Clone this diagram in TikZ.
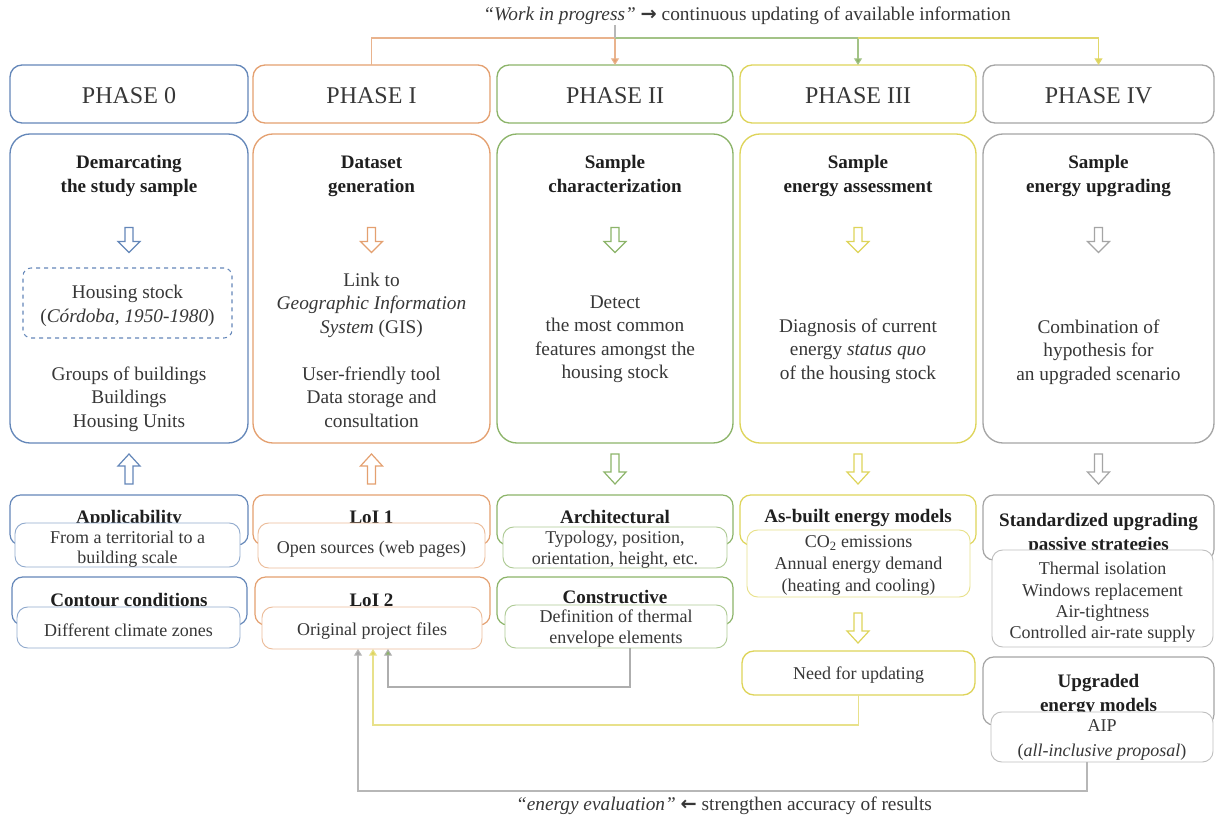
\documentclass[tikz,border=0pt]{standalone}
\usepackage{fontspec}
\setmainfont{Liberation Serif}
\newfontfamily\dejavu{DejaVu Sans}
\usetikzlibrary{fit,calc,arrows.meta}
\definecolor{cA}{RGB}{100,135,185}
\definecolor{cB}{RGB}{228,160,112}
\definecolor{cC}{RGB}{140,180,105}
\definecolor{cD}{RGB}{222,212,90}
\definecolor{cE}{RGB}{165,165,165}
\definecolor{txt}{RGB}{55,55,55}
\tikzset{
  every node/.style={inner sep=0pt,outer sep=0pt},
  hbox/.style={draw=#1,line width=1pt,rounded corners=9pt,inner sep=0pt},
  bigbox/.style={draw=#1,line width=1pt,rounded corners=15pt,inner sep=0pt},
  outbox/.style={draw=#1,line width=0.9pt,rounded corners=8pt,inner sep=0pt},
  inbox/.style={draw=#1!70,fill=white,line width=0.7pt,rounded corners=8pt,inner sep=0pt},
  hdtext/.style={font=\fontsize{18}{22}\selectfont,text=txt},
  ttl/.style={font=\fontsize{14.3}{18}\selectfont\bfseries,align=center,text=black!88,text depth=3pt},
  body/.style={font=\fontsize{14.5}{17.6}\selectfont,align=center,text=txt,text depth=3pt},
  small/.style={font=\fontsize{13.5}{15.4}\selectfont,align=center,text=txt},
  note/.style={font=\fontsize{14.5}{17}\selectfont,text=txt},
  ln/.style={draw=#1,line width=0.8pt},
  tip/.style={-{Triangle[width=6pt,length=5pt,fill=#1]}},
  pics/darrow/.style={code={\draw[draw=#1,line width=0.9pt,fill=white]
     (-4,-12.5) -- (4,-12.5) -- (4,1.5) -- (11,1.5) -- (0,12.5) -- (-11,1.5) -- (-4,1.5) -- cycle;}},
  pics/darrowL/.style={code={\draw[draw=#1,line width=0.9pt,fill=white]
     (-4,-15) -- (4,-15) -- (4,3) -- (11,3) -- (0,15) -- (-11,3) -- (-4,3) -- cycle;}},
  pics/uarrowL/.style={code={\draw[draw=#1,line width=0.9pt,fill=white]
     (-4,15) -- (4,15) -- (4,-3) -- (11,-3) -- (0,-15) -- (-11,-3) -- (-4,-3) -- cycle;}},
}
\begin{document}
\begin{tikzpicture}[x=0.75pt,y=-0.75pt]
\fill[white] (0,0) rectangle (1216,823);
\useasboundingbox (0,0) rectangle (1216,823);
\coordinate (top) at (0,38);

% ---------- headers
\node[fit={(10,65)(248,123)},hbox=cA] (h0) {};
\node[fit={(253,65)(490,123)},hbox=cB] (h1) {};
\node[fit={(497,65)(733,123)},hbox=cC] (h2) {};
\node[fit={(740,65)(976,123)},hbox=cD] (h3) {};
\node[fit={(983,65)(1214,123)},hbox=cE] (h4) {};
\node[hdtext] (t0) at ($(h0)+(0,2)$) {PHASE 0};
\node[hdtext] (t1) at ($(h1)+(0,2)$) {PHASE I};
\node[hdtext] (t2) at ($(h2)+(0,2)$) {PHASE II};
\node[hdtext] (t3) at ($(h3)+(0,2)$) {PHASE III};
\node[hdtext] (t4) at ($(h4)+(0,2)$) {PHASE IV};

% ---------- main boxes
\node[fit={(10,134)(248,443)},bigbox=cA] (m0) {};
\node[fit={(253,134)(490,443)},bigbox=cB] (m1) {};
\node[fit={(497,134)(733,443)},bigbox=cC] (m2) {};
\node[fit={(740,134)(976,443)},bigbox=cD] (m3) {};
\node[fit={(983,134)(1214,443)},bigbox=cE] (m4) {};

\node[ttl] (m0t) at (129,176) {Demarcating\\the study sample};
\node[ttl] (m1t) at (371.5,176) {Dataset\\generation};
\node[ttl] (m2t) at (615,176) {Sample\\characterization};
\node[ttl] (m3t) at (858,176) {Sample\\energy assessment};
\node[ttl] (m4t) at (1098.5,176) {Sample\\energy upgrading};

\pic (a0) at (129,240) {darrow=cA};
\pic (a1) at (371.5,240) {darrow=cB};
\pic (a2) at (615,240) {darrow=cC};
\pic (a3) at (858,240) {darrow=cD};
\pic (a4) at (1098.5,240) {darrow=cE};

\node[fit={(23,268)(232,338)},draw=cA,dashed,line width=0.8pt,rounded corners=6pt] (hs) {};
\node[body] (hst) at ($(hs)+(0,3)$) {Housing stock\\(\textit{Córdoba, 1950-1980})};
\node[body] (m0b) at (129,399) {Groups of buildings\\Buildings\\Housing Units};

\node[body] (m1a) at (371.5,305) {Link to\\\textit{Geographic Information}\\\textit{System} (GIS)};
\node[body] (m1b) at (371.5,399) {User-friendly tool\\Data storage and\\consultation};

\node[body] (m2a) at (615,339) {Detect\\the most common\\features amongst the\\housing stock};
\node[body] (m3a) at (858,351) {Diagnosis of current\\energy \textit{status quo}\\of the housing stock};
\node[body] (m4a) at (1098.5,352) {Combination of\\hypothesis for\\an upgraded scenario};

% ---------- arrows between rows
\pic (b0) at (129,469) {uarrowL=cA};
\pic (b1) at (371.5,469) {uarrowL=cB};
\pic (b2) at (615,469) {darrowL=cC};
\pic (b3) at (858,469) {darrowL=cD};
\pic (b4) at (1098.5,469) {darrowL=cE};

% ---------- Phase 0 lower
\node[fit={(10,495)(248,545)},outbox=cA] (p0a) {};
\node[ttl] (p0at) at (129,519) {Applicability};
\node[fit={(15,523)(240,567)},inbox=cA] (p0ai) {};
\node[small] (p0aix) at ($(p0ai)+(0,4)$) {From a territorial to a\\building scale};
\node[fit={(12,577)(247,625)},outbox=cA] (p0b) {};
\node[ttl] (p0bt) at (129,602) {Contour conditions};
\node[fit={(17,607)(240,648)},inbox=cA] (p0bi) {};
\node[small] (p0bix) at ($(p0bi)+(0,3)$) {Different climate zones};

% ---------- Phase I lower
\node[fit={(253,495)(490,545)},outbox=cB] (p1a) {};
\node[ttl] (p1at) at (371.5,519) {LoI 1};
\node[fit={(258,523)(485,568)},inbox=cB] (p1ai) {};
\node[small] (p1aix) at ($(p1ai)+(0,4)$) {Open sources (web pages)};
\node[fit={(255,577)(490,625)},outbox=cB] (p1b) {};
\node[ttl] (p1bt) at (371.5,602) {LoI 2};
\node[fit={(262,607)(482,649)},inbox=cB] (l2in) {};
\node[small] (l2inx) at ($(l2in)+(0,3)$) {Original project files};

% ---------- Phase II lower
\node[fit={(497,495)(733,545)},outbox=cC] (p2a) {};
\node[ttl] (p2at) at (615,519) {Architectural};
\node[fit={(503,527)(727,568)},inbox=cC] (p2ai) {};
\node[small] (p2aix) at ($(p2ai)+(0,2)$) {Typology, position,\\orientation, height, etc.};
\node[fit={(497,577)(733,625)},outbox=cC] (p2b) {};
\node[ttl] (p2bt) at (615,599) {Constructive};
\node[fit={(505,605)(727,648)},inbox=cC] (c2in) {};
\node[small] (c2inx) at ($(c2in)+(0,2)$) {Definition of thermal\\envelope elements};

% ---------- Phase III lower
\node[fit={(740,495)(976,545)},outbox=cD] (p3a) {};
\node[ttl] (p3at) at (858,518) {As-built energy models};
\node[fit={(747,530)(970,597)},inbox=cD] (p3ai) {};
\node[small,font=\fontsize{13.5}{16.2}\selectfont] (p3aix) at ($(p3ai)+(0,2)$) {CO\textsubscript{2} emissions\\Annual energy demand\\(heating and cooling)};
\pic (a3b) at (858,628) {darrowL=cD};
\node[fit={(742,651)(975,695)},hbox=cD] (need) {};
\node[small] (needx) at ($(need)+(0,2)$) {Need for updating};

% ---------- Phase IV lower
\node[fit={(983,495)(1214,560)},outbox=cE] (p4a) {};
\node[ttl] (p4at) at (1098.5,534) {Standardized upgrading\\passive strategies};
\node[fit={(992,550)(1213,647)},inbox=cE] (p4ai) {};
\node[small,font=\fontsize{13.5}{16}\selectfont] (p4aix) at ($(p4ai)+(0,4)$) {Thermal isolation\\Windows replacement\\Air-tightness\\Controlled air-rate supply};
\node[fit={(983,657)(1214,725)},outbox=cE] (p4b) {};
\node[ttl] (p4bt) at (1098.5,695) {Upgraded\\energy models};
\node[fit={(991,712)(1213,762)},inbox=cE] (u2in) {};
\node[small,font=\fontsize{13.5}{19}\selectfont] (u2inx) at ($(u2in)+(0,3)$) {AIP\\(\textit{all-inclusive proposal})};

% ---------- top connectors
\node[note] (toptext) at (747,16) {\textit{“Work in progress”} {\dejavu\bfseries →} continuous updating of available information};
\draw[ln=cB!80,tip=cB] (h1.north) -- (h1.north |- top) -| (h2.north);
\draw[ln=cC!80,tip=cC] (h2.north |- top) -| (h3.north);
\draw[ln=cD!90,tip=cD] (h3.north |- top) -| (h4.north);
\draw[ln=cE!80] (toptext.south -| h2.north) -- (h2.north |- top);

% ---------- feedback connectors
\draw[ln=cE!90,tip=cC] ($(c2in.south)+(14,0)$) |- ($(l2in.south)+(16,38)$) -- ($(l2in.south)+(16,0)$);
\draw[ln=cD!70,tip=cD] (need.south) |- ($(l2in.south)+(1,76)$) -- ($(l2in.south)+(1,0)$);
\draw[ln=cE!80,tip=cE] ($(u2in.south)+(-15,0)$) |- ($(l2in.south)+(-14,142)$) -- ($(l2in.south)+(-14,0)$);
\node[note] (bottext) at (724,806) {\textit{“energy evaluation”} {\dejavu\bfseries ←} strengthen accuracy of results};
\end{tikzpicture}
\end{document}
